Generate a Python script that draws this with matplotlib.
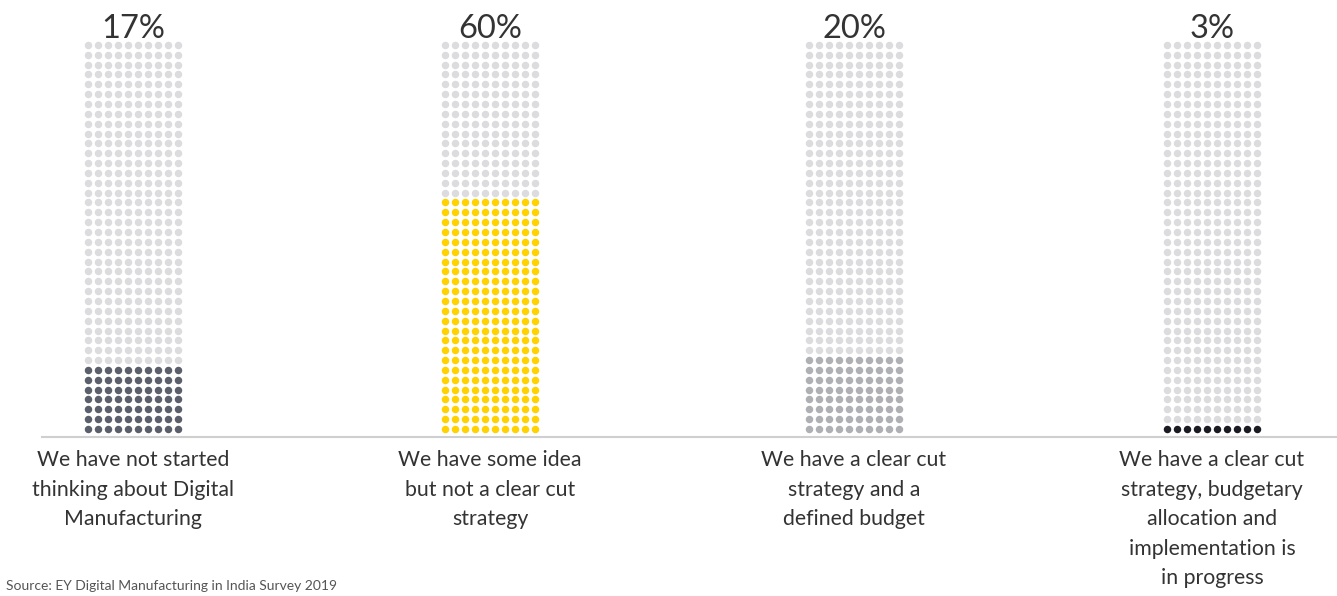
import numpy as np
import matplotlib.pyplot as plt

plt.rcParams['font.family'] = ['Lato', 'DejaVu Sans']

# data
pct = [17, 60, 20, 3]
labels = ["We have not started\nthinking about Digital\nManufacturing",
          "We have some idea\nbut not a clear cut\nstrategy",
          "We have a clear cut\nstrategy and a\ndefined budget",
          "We have a clear cut\nstrategy, budgetary\nallocation and\nimplementation is\nin progress"]
colors = ['#5b5f6b', '#ffd200', '#aeb0b4', '#1b1b24']
empty_col = '#dcdcde'
n_cols, n_rows = 10, 40

# layout (pixel coords)
centers = [133, 490, 854, 1212]
pitch_x, pitch_y = 9.9, 9.85
base_y = 429

fig = plt.figure(figsize=(13.37, 5.96), dpi=100)
ax = fig.add_axes([0, 0, 1, 1])
ax.set_xlim(0, 1337)
ax.set_ylim(596, 0)
ax.axis('off')

cc, rr = np.meshgrid(np.arange(n_cols), np.arange(n_rows))
cc, rr = cc.ravel(), rr.ravel()
for cx, p, col, lab in zip(centers, pct, colors, labels):
    filled = int(round(p / 100 * n_rows))
    xs = cx + (cc - (n_cols - 1) / 2) * pitch_x
    ys = base_y - rr * pitch_y
    on = rr < filled
    ax.scatter(xs[~on], ys[~on], s=29, color=empty_col, lw=0)
    ax.scatter(xs[on], ys[on], s=29, color=col, lw=0)
    ax.text(cx, 38, f"{p}%", ha='center', va='baseline', fontsize=23.5, color='#333333')
    ax.text(cx, 450, lab, ha='center', va='top', fontsize=15.3, color='#333333',
            linespacing=1.6)

ax.plot([42, 1337], [437, 437], color='#cfcfcf', lw=1.5)
ax.text(6, 580, "Source: EY Digital Manufacturing in India Survey 2019", ha='left',
        va='top', fontsize=10, color='#555555')

fig.savefig('out.png', dpi=100)
